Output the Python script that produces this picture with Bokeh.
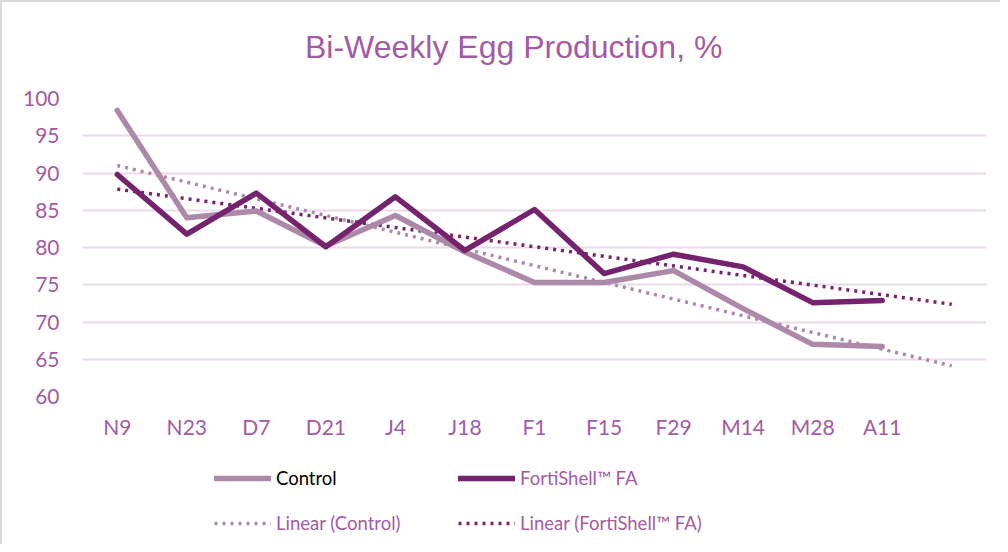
import numpy as np
from bokeh.plotting import figure
from bokeh.layouts import column
from bokeh.models import (Range1d, FixedTicker, Legend, LegendItem, Div)
from bokeh.embed import file_html
from bokeh.resources import INLINE

categories = ["N9", "N23", "D7", "D21", "J4", "J18", "F1", "F15", "F29", "M14", "M28", "A11"]
control = [98.4, 84.0, 84.9, 80.2, 84.3, 79.4, 75.3, 75.3, 76.9, 71.8, 67.0, 66.7]
fortishell = [89.8, 81.8, 87.3, 80.1, 86.8, 79.6, 85.1, 76.5, 79.1, 77.4, 72.6, 72.9]
y_ticks = [60, 65, 70, 75, 80, 85, 90, 95, 100]
forecast_forward = 1
chart_title = "Bi-Weekly Egg Production, %"

TITLE_COLOR = "#A35BA3"
TICK_COLOR = "#A35BA5"
GRID_COLOR = "#EBD9EB"
CONTROL_COLOR = "#AC89A9"
FORTI_COLOR = "#76236D"
FONT = "Lato"

xs = list(range(len(categories)))
n_slots = len(categories) + forecast_forward

# title block
title_div = Div(
    text=('<div style="padding-left:303px;padding-top:29px;margin:0;'
          'font-family:\'Liberation Sans\';font-size:32px;line-height:32px;'
          'white-space:nowrap;color:%s;">%s</div>') % (TITLE_COLOR, chart_title),
    width=998, height=70, margin=0)

p = figure(width=998, height=378, output_backend="svg", toolbar_location=None,
           x_range=Range1d(-0.5, n_slots - 0.5), y_range=Range1d(60, 100),
           min_border_left=80, min_border_right=14, min_border_top=26, min_border_bottom=54,
           background_fill_color="white", border_fill_color="white")
p.outline_line_color = None

# axes
p.xaxis.ticker = FixedTicker(ticks=xs)
p.xaxis.major_label_overrides = {i: c for i, c in enumerate(categories)}
p.yaxis.ticker = FixedTicker(ticks=y_ticks)
for ax in (p.xaxis[0], p.yaxis[0]):
    ax.axis_line_color = None
    ax.major_tick_line_color = None
    ax.minor_tick_line_color = None
    ax.major_label_text_font = FONT
    ax.major_label_text_font_size = "21px"
    ax.major_label_text_color = TICK_COLOR
p.xaxis.major_label_standoff = 11
p.yaxis.major_label_standoff = 17

p.xgrid.grid_line_color = None
p.ygrid.grid_line_color = GRID_COLOR
p.ygrid.grid_line_width = 2

# trend lines (least squares, forecast forward)
tx = np.array([0, len(categories) - 1 + forecast_forward], dtype=float)
cs, ci = np.polyfit(xs, control, 1)
fs, fi = np.polyfit(xs, fortishell, 1)

trend_style = dict(line_width=3.5, line_dash="3 5", line_cap="butt")
main_style = dict(line_width=5.5, line_join="round", line_cap="round")

p.line(tx, ci + cs * tx, line_color=CONTROL_COLOR, **trend_style)
p.line(tx, fi + fs * tx, line_color=FORTI_COLOR, **trend_style)
p.line(xs, control, line_color=CONTROL_COLOR, **main_style)
p.line(xs, fortishell, line_color=FORTI_COLOR, **main_style)

# legend panel below the chart (no axes; dummy renderers lie outside its view)
lf = figure(width=998, height=94, output_backend="svg", toolbar_location=None,
            x_axis_type=None, y_axis_type=None,
            x_range=Range1d(0, 1), y_range=Range1d(0, 1),
            min_border=0, min_border_left=0, min_border_right=0,
            min_border_top=0, min_border_bottom=0,
            background_fill_color="white", border_fill_color="white")
lf.grid.visible = False
lf.outline_line_color = None

far = [5, 6]
g_control = lf.line(far, far, line_color=CONTROL_COLOR, **main_style)
g_forti = lf.line(far, far, line_color=FORTI_COLOR, **main_style)
g_ctrend = lf.line(far, far, line_color=CONTROL_COLOR, **trend_style)
g_ftrend = lf.line(far, far, line_color=FORTI_COLOR, **trend_style)

def add_legend(label, renderer, x, y, color):
    lg = Legend(items=[LegendItem(label=label, renderers=[renderer])],
                location=(x, y), orientation="horizontal",
                border_line_color=None, background_fill_alpha=0,
                padding=0, margin=0, glyph_width=57, glyph_height=20,
                label_height=20, label_standoff=5,
                label_text_font=FONT, label_text_font_size="18.5px",
                label_text_color=color)
    lf.add_layout(lg, "center")

# frames of the two figures are aligned, so x is measured from the chart frame's left edge
add_legend("Control", g_control, 132, 55, "black")
add_legend("FortiShell™ FA", g_forti, 376, 55, TICK_COLOR)
add_legend("Linear (Control)", g_ctrend, 132, 10, TICK_COLOR)
add_legend("Linear (FortiShell™ FA)", g_ftrend, 376, 10, TICK_COLOR)

layout = column(title_div, p, lf, spacing=0)
layout.styles = {"border-left": "2px solid #D9D9D9", "border-top": "2px solid #D9D9D9",
                 "background-color": "white"}

open("out.html", "w").write(file_html(layout, INLINE))
